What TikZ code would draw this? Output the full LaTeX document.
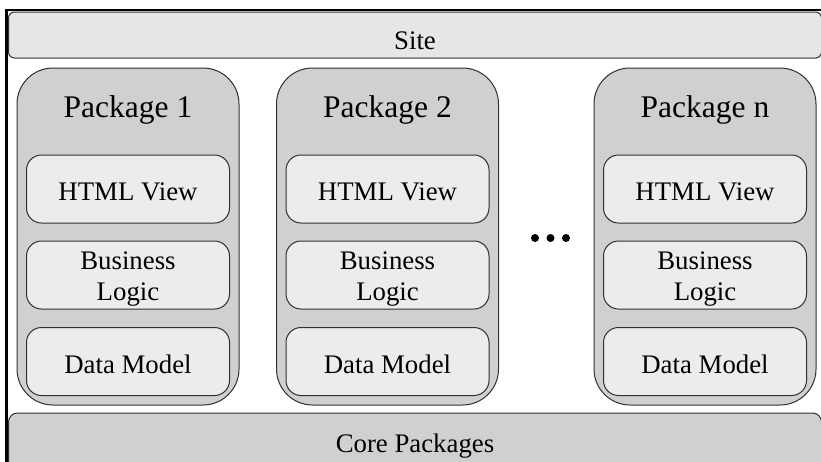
\documentclass[tikz,border=0pt]{standalone}
\usepackage{fontspec}
\setmainfont{Liberation Serif}
\definecolor{sitefill}{HTML}{E6E6E6}
\definecolor{pkgfill}{HTML}{D0D0D0}
\definecolor{boxfill}{HTML}{ECECEC}
\definecolor{edge}{HTML}{303030}
\tikzset{
  bar/.style={draw=edge, line width=1pt, inner sep=0pt, outer sep=0pt},
  pkgbox/.style={draw=edge, line width=1pt, fill=pkgfill, rounded corners=36pt,
    minimum width=222pt, minimum height=337pt, inner sep=0pt, outer sep=0pt},
  layerbox/.style={draw=edge, line width=1pt, fill=boxfill, rounded corners=15pt,
    minimum width=203pt, minimum height=68pt, inner sep=0pt, outer sep=0pt},
  bigtxt/.style={font=\fontsize{31.5}{36}\selectfont, anchor=base, inner sep=0pt},
  txt/.style={font=\fontsize{26.8}{31}\selectfont, anchor=base, inner sep=0pt, align=center},
  dotmark/.style={circle, fill=black, inner sep=0pt, minimum size=8pt}
}
\begin{document}
\begin{tikzpicture}[x=1pt, y=-1pt]
\useasboundingbox (0,0) rectangle (821,461);
\clip (0,0) rectangle (821,461);
% outer frame (only top and left visible)
\draw[line width=2.5pt, black] (821,10) -- (6.5,10) -- (6.5,470);
% site bar
\node[bar, fill=sitefill, rounded corners=6pt, minimum width=813pt, minimum height=46pt] (site) at (415,35) {};
\node[txt] (sitet) at (415,49) {Site};
% core packages bar
\node[bar, fill=pkgfill, rounded corners=9pt, minimum width=813pt, minimum height=80pt] (core) at (415,453) {};
\node[txt] (coret) at (415,452) {Core Packages};
% packages
\foreach \n/\cx/\lab in {1/128/Package 1, 2/387.5/Package 2, 3/705/Package n}{
  \node[pkgbox] (p\n) at (\cx,236.5) {};
  \node[bigtxt] (p\n t) at (\cx,117) {\lab};
  \node[layerbox] (h\n) at (\cx,189) {};
  \node[txt] (h\n t) at (\cx,200.5) {HTML View};
  \node[layerbox] (b\n) at (\cx,275) {};
  \node[txt] (b\n t) at (\cx,269) {Business};
  \node[txt] (b\n u) at (\cx,300) {Logic};
  \node[layerbox] (d\n) at (\cx,361.5) {};
  \node[txt] (d\n t) at (\cx,373) {Data Model};
}
% ellipsis dots
\node[dotmark] (dot1) at (535,238) {};
\node[dotmark] (dot2) at (550.5,238) {};
\node[dotmark] (dot3) at (566,238) {};
\end{tikzpicture}
\end{document}
